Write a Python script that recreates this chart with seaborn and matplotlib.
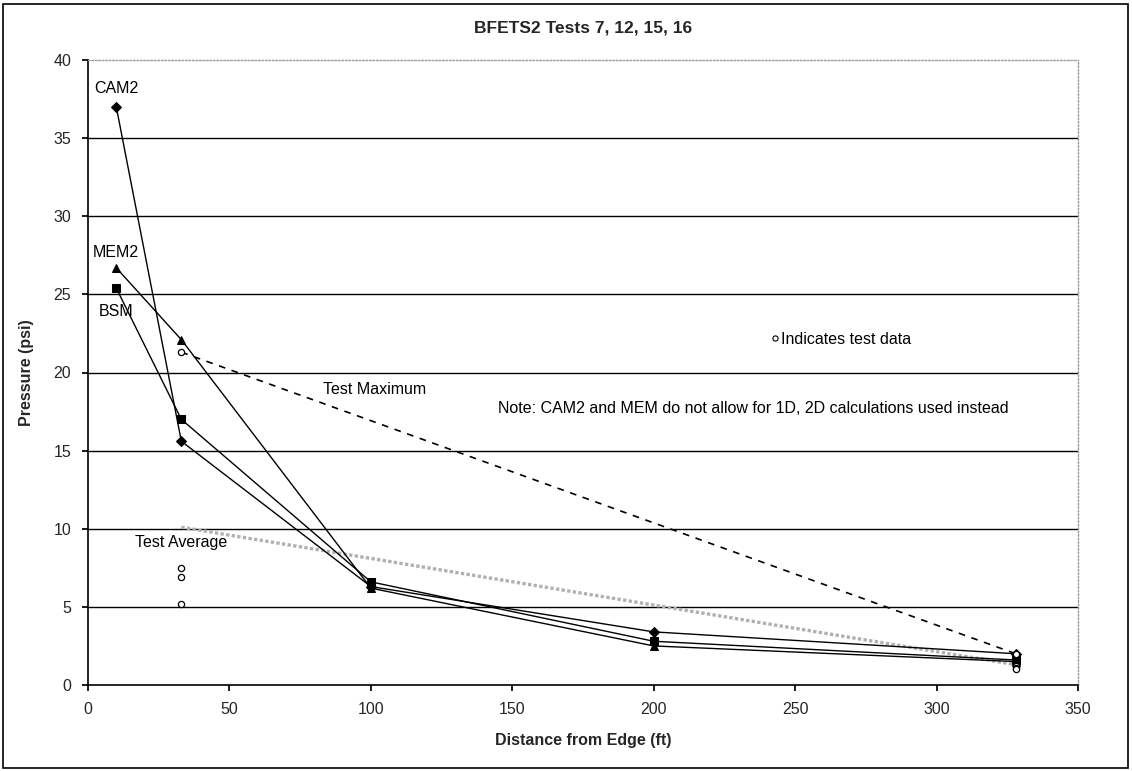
import matplotlib
matplotlib.use("Agg")
import matplotlib.pyplot as plt
import seaborn as sns
import pandas as pd
from matplotlib.patches import Rectangle

sns.set_theme(style="white")
plt.rcParams["font.family"] = ["Liberation Sans", "DejaVu Sans"]

# Distances from edge (ft)
distance = [10, 33, 100, 200, 328]

# Model predictions (psi)
cam2 = [37.0, 15.6, 6.3, 3.4, 2.0]
mem2 = [26.7, 22.1, 6.2, 2.5, 1.5]
bsm = [25.4, 17.0, 6.6, 2.8, 1.6]

# Test envelopes
test_x = [33, 328]
test_max = [21.3, 2.0]
test_avg = [10.1, 1.3]

# Individual test readings
data_x = [33, 33, 33, 33, 328, 328, 328, 328]
data_y = [21.3, 7.5, 6.9, 5.2, 2.0, 1.2, 1.1, 1.0]

title = "BFETS2 Tests 7, 12, 15, 16"
xlabel = "Distance from Edge (ft)"
ylabel = "Pressure (psi)"

fig = plt.figure(figsize=(11.32, 7.71), dpi=100)
ax = fig.add_axes([88 / 1132, 1 - 685 / 771, (1078 - 88) / 1132, (685 - 60) / 771])

# Horizontal gridlines
for yv in range(5, 40, 5):
    ax.axhline(yv, color="black", lw=1.0, zorder=0)

models = pd.DataFrame({"x": distance * 3,
                       "y": cam2 + mem2 + bsm,
                       "model": ["CAM2"] * 5 + ["MEM2"] * 5 + ["BSM"] * 5})
sns.lineplot(data=models, x="x", y="y", units="model", estimator=None,
             style="model", markers={"CAM2": "D", "MEM2": "^", "BSM": "s"},
             dashes=False, color="black", lw=1.0, markersize=5.5,
             markeredgecolor="black", legend=False, ax=ax, zorder=3)

sns.lineplot(x=test_x, y=test_max, color="black", lw=1.2, ax=ax,
             linestyle=(0, (4, 4)), zorder=2)
sns.lineplot(x=test_x, y=test_avg, color="#b0b0b0", lw=2.4, ax=ax,
             linestyle=(0, (1.0, 0.7)), zorder=2)
sns.scatterplot(x=data_x, y=data_y, marker="o", s=20, facecolor="white",
                edgecolor="black", linewidth=0.9, ax=ax, zorder=4)

ax.set_xlim(0, 350)
ax.set_ylim(0, 40)
ax.set_xticks(range(0, 351, 50))
ax.set_yticks(range(0, 41, 5))
ax.tick_params(axis="both", labelsize=11.5, length=4, direction="out",
               color="black", bottom=True, left=True, pad=8)
ax.spines["left"].set_color("black")
ax.spines["bottom"].set_color("black")
ax.spines["left"].set_linewidth(1.2)
ax.spines["bottom"].set_linewidth(1.2)
for s in ("top", "right"):
    ax.spines[s].set_color("#9a9a9a")
    ax.spines[s].set_linestyle((0, (1, 1.5)))
    ax.spines[s].set_linewidth(1.0)

ax.set_xlabel(xlabel, fontsize=11.5, fontweight="bold", labelpad=12)
ax.set_ylabel(ylabel, fontsize=11.5, fontweight="bold", labelpad=14)
fig.text(583 / 1132, 1 - 28 / 771, title, ha="center", va="center",
         fontsize=12.5, fontweight="bold")

ann = dict(fontsize=11.5, color="black", va="center")
ax.text(10, 38.2, "CAM2", ha="center", **ann)
ax.text(10, 27.7, "MEM2", ha="center", **ann)
ax.text(10, 23.9, "BSM", ha="center", **ann)
ax.text(83, 18.9, "Test Maximum", ha="left", **ann)
ax.text(33, 9.15, "Test Average", ha="center", **ann)
ax.text(145, 17.7, "Note: CAM2 and MEM do not allow for 1D, 2D calculations used instead",
        ha="left", **ann)
ax.scatter([243], [22.2], marker="o", s=14, facecolor="white",
           edgecolor="black", linewidth=0.8, zorder=4)
ax.text(245, 22.1, "Indicates test data", ha="left", **ann)

# Outer frame
fig.patches.append(Rectangle((3 / 1132, 3 / 771), 1 - 7 / 1132, 1 - 7 / 771,
                             transform=fig.transFigure, fill=False,
                             edgecolor="black", lw=1.2))

fig.savefig("out.png", dpi=100)
